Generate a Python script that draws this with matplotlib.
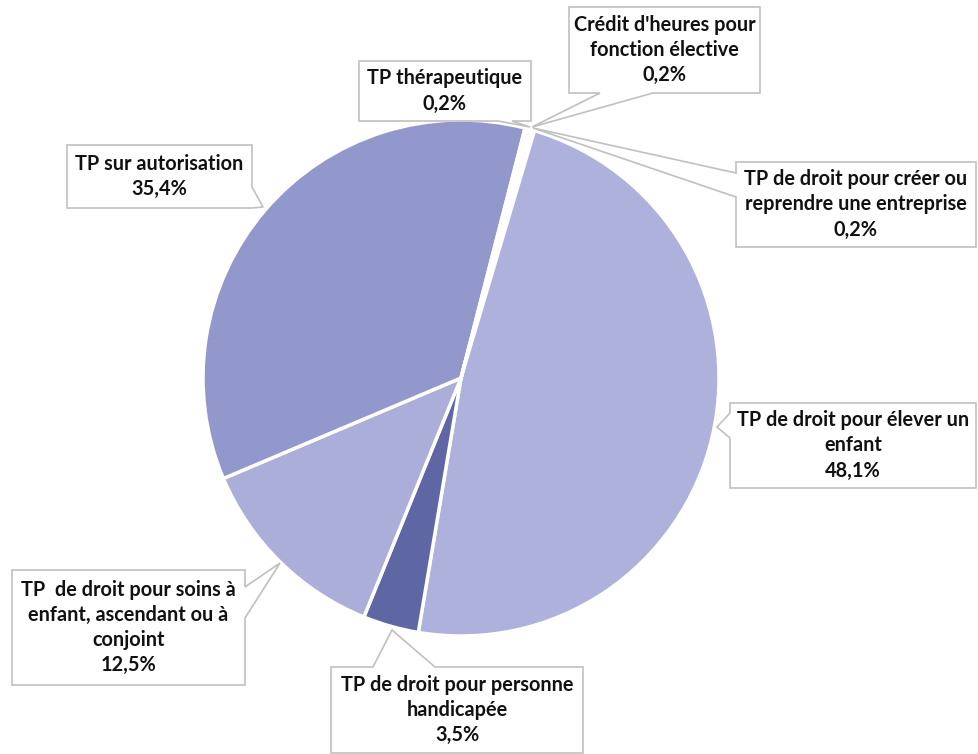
import numpy as np
import matplotlib.pyplot as plt
from matplotlib.patches import Polygon

plt.rcParams['font.family'] = ['Lato', 'DejaVu Sans']

# slices, clockwise from the top
labels = ["Crédit d'heures pour\nfonction élective",
          "TP de droit pour créer ou\nreprendre une entreprise",
          "TP de droit pour élever un\nenfant",
          "TP de droit pour personne\nhandicapée",
          "TP  de droit pour soins à\nenfant, ascendant ou à\nconjoint",
          "TP sur autorisation",
          "TP thérapeutique"]
values = [0.2, 0.2, 48.1, 3.5, 12.5, 35.4, 0.2]
colors = ['#ffffff', '#ffffff', '#adb1db', '#5e66a4', '#abaed9', '#9398cc', '#ffffff']

W, H = 979, 754
fig = plt.figure(figsize=(W / 100, H / 100), dpi=100)
ax = fig.add_axes([0, 0, 1, 1])

cx, cy, r = 461, H - 378, 258
ax.pie(values, colors=colors, startangle=74.9, counterclock=False,
       center=(cx, cy), radius=r, frame=True,
       wedgeprops=dict(edgecolor='white', linewidth=2.5))
ax.set_xlim(0, W)
ax.set_ylim(0, H)
ax.set_aspect('equal')
ax.axis('off')

# callout boxes in pixel coords (y down): box, side, base span, tip
callouts = [
    ((569, 7, 760, 93), 'bottom', (600, 653), (532, 127)),
    ((736, 162, 976, 247), 'left', (173, 197), (533, 128)),
    ((730, 403, 976, 488), 'left', (413, 438), (717, 427)),
    ((331, 667, 583, 753), 'top', (373, 435), (392, 630)),
    ((12, 570, 245, 685), 'right', (587, 618), (280, 563)),
    ((67, 145, 252, 208), 'right', (187, 208), (263, 207)),
    ((359, 61, 531, 121), 'bottom', (498, 512), (530, 127)),
]


def callout_poly(box, side, base, tip):
    x0, y0, x1, y1 = box
    a, b = base
    if side == 'top':
        pts = [(x0, y0), (a, y0), tip, (b, y0), (x1, y0), (x1, y1), (x0, y1)]
    elif side == 'bottom':
        pts = [(x0, y0), (x1, y0), (x1, y1), (b, y1), tip, (a, y1), (x0, y1)]
    elif side == 'right':
        pts = [(x0, y0), (x1, y0), (x1, a), tip, (x1, b), (x1, y1), (x0, y1)]
    else:
        pts = [(x0, y0), (x1, y0), (x1, y1), (x0, y1), (x0, b), tip, (x0, a)]
    return [(px, H - py) for px, py in pts]


for lab, val, (box, side, base, tip) in zip(labels, values, callouts):
    poly = Polygon(callout_poly(box, side, base, tip), closed=True,
                   facecolor='white', edgecolor='#c0c0c0', linewidth=1.2, zorder=3)
    ax.add_patch(poly)
    txt = lab + '\n' + ('%.1f%%' % val).replace('.', ',')
    ax.text((box[0] + box[2]) / 2, H - (box[1] + box[3]) / 2, txt,
            ha='center', va='center', fontsize=14.3, fontweight='bold',
            color='#111111', linespacing=1.33, zorder=4)

fig.savefig('out.png', dpi=100, facecolor='white')
